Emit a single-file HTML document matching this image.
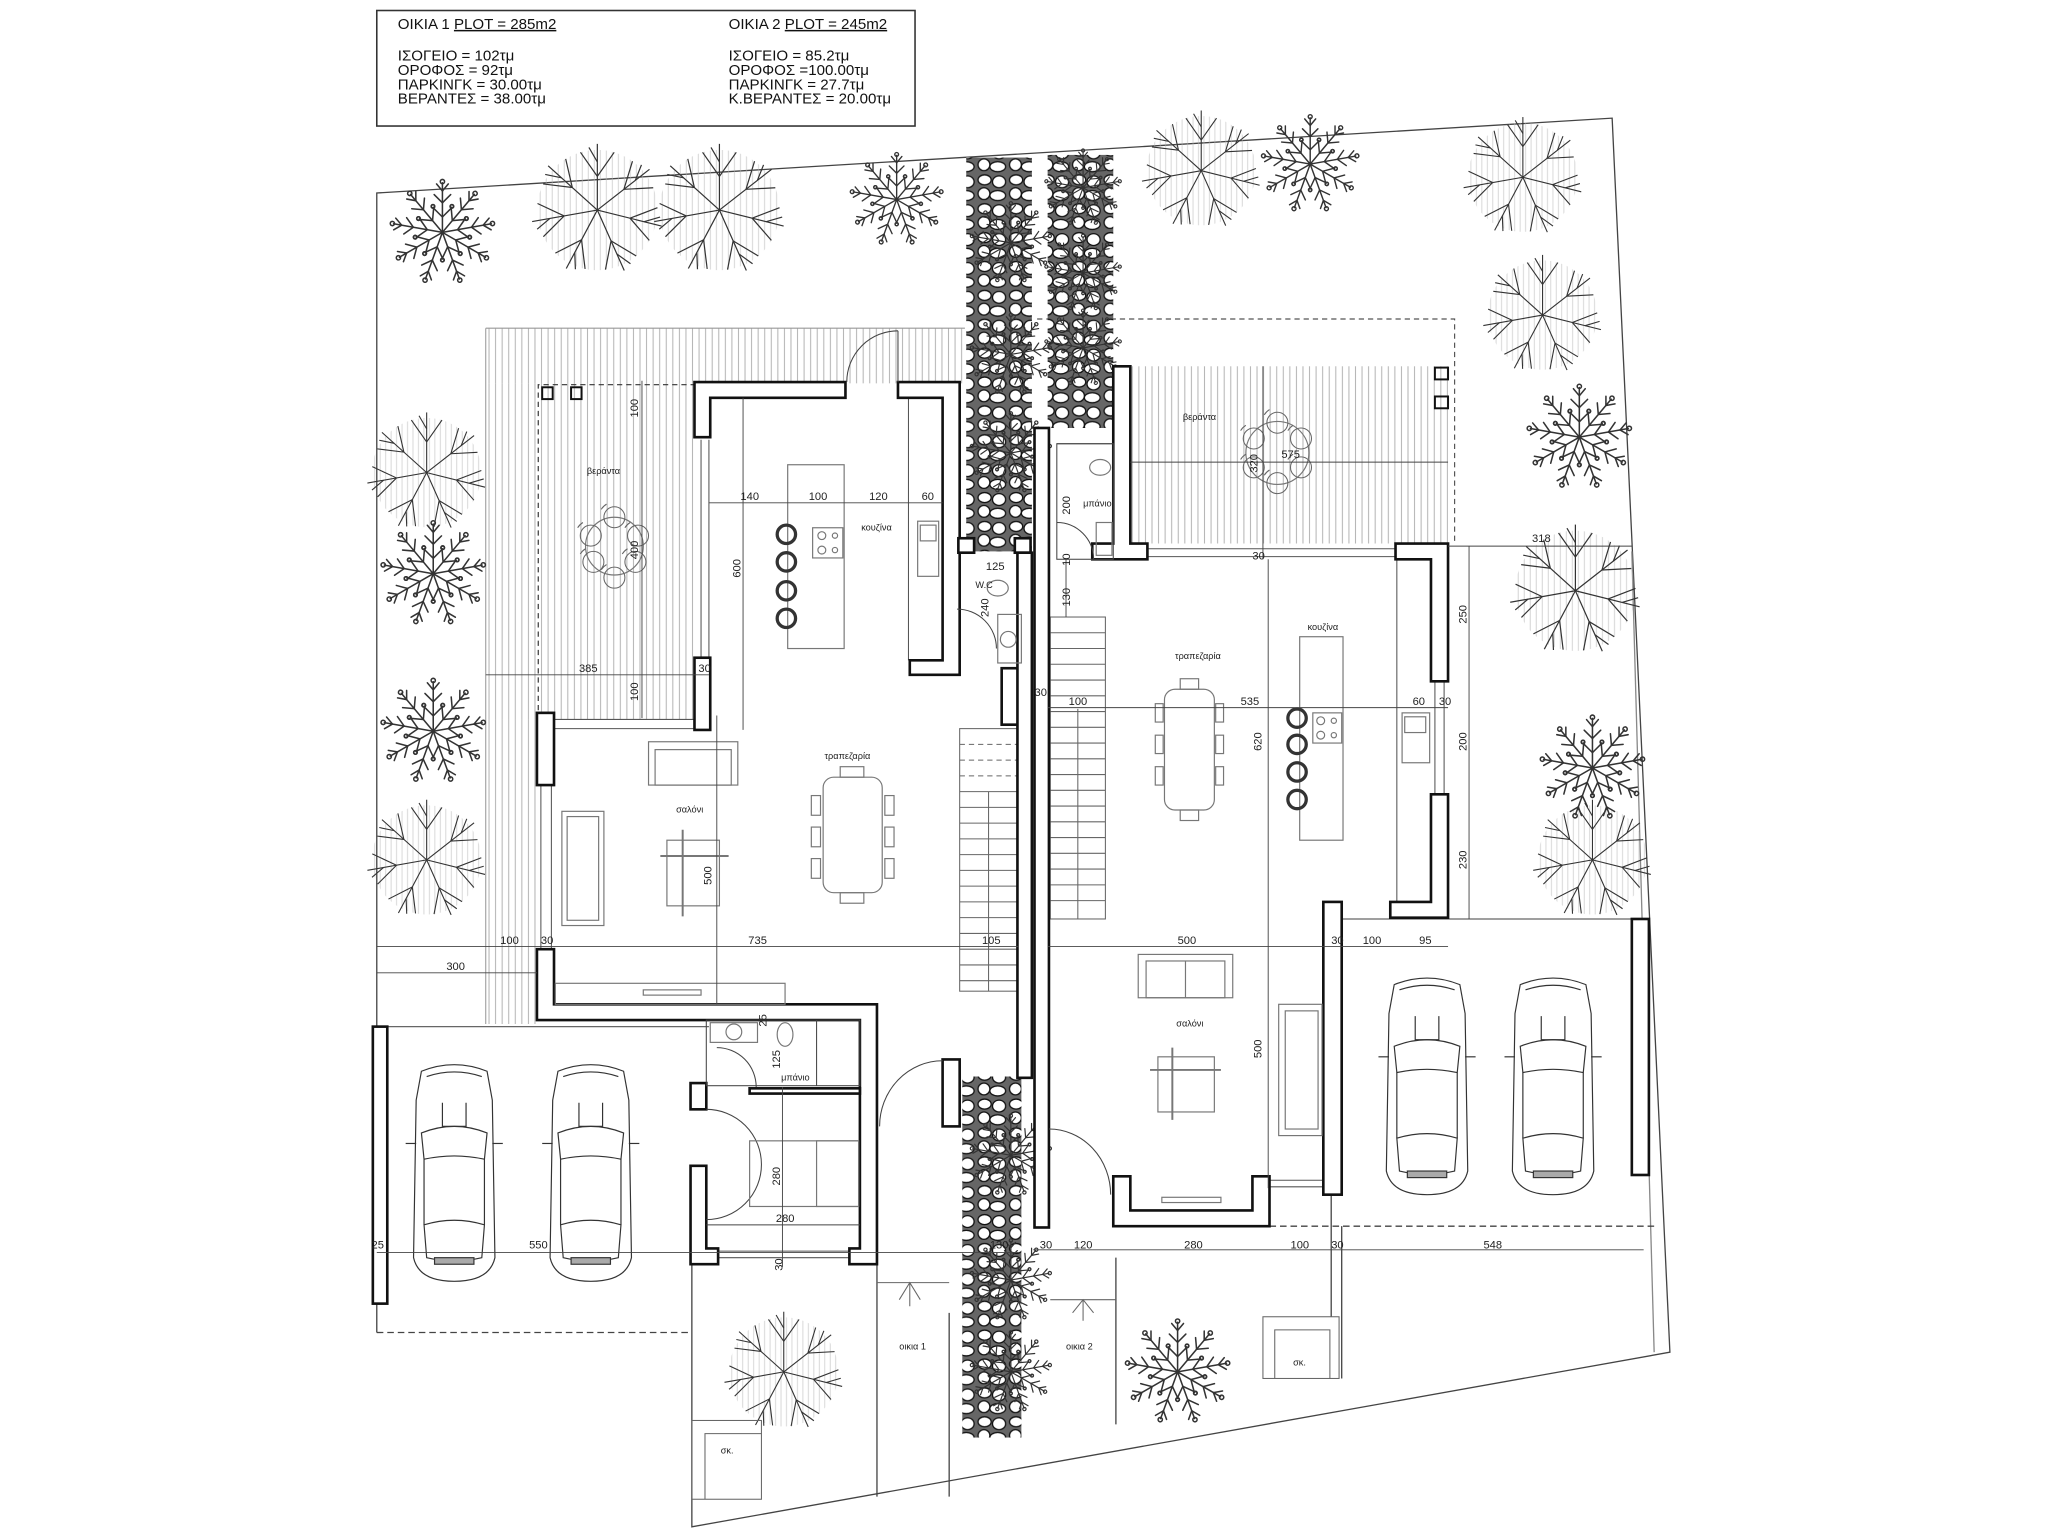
<!DOCTYPE html>
<html><head><meta charset="utf-8"><style>
html,body{margin:0;padding:0;background:#fff;}
svg{display:block;}
text{font-family:"Liberation Sans",sans-serif;fill:#222;}
.lg{font-size:11.5px;fill:#111;}
.d{font-size:8.5px;}
.s{font-size:7px;}
</style></head><body>
<svg width="2048" height="1536" viewBox="0 0 1560 1170" preserveAspectRatio="none" xmlns="http://www.w3.org/2000/svg">
<defs>
<pattern id="hatch" width="5" height="10" patternUnits="userSpaceOnUse"><line x1="2.5" y1="0" x2="2.5" y2="10" stroke="#b5b5b5" stroke-width="0.8"/></pattern>
<pattern id="stone" width="24" height="22" patternUnits="userSpaceOnUse">
<rect width="24" height="22" fill="#666"/>
<ellipse cx="6" cy="5" rx="5" ry="3.8" fill="#fff" stroke="#111" stroke-width="1"/>
<ellipse cx="17" cy="6.5" rx="5" ry="4.5" fill="#fff" stroke="#111" stroke-width="1"/>
<ellipse cx="5.5" cy="15.5" rx="4.5" ry="4.5" fill="#fff" stroke="#111" stroke-width="1"/>
<ellipse cx="16" cy="17" rx="6" ry="3.8" fill="#fff" stroke="#111" stroke-width="1"/>
</pattern>
<g id="br" stroke="#333" stroke-width="1.3" fill="none" stroke-linecap="round">
<line x1="0" y1="0" x2="0" y2="-42"/>
<line x1="0" y1="-13" x2="-8" y2="-21"/><line x1="0" y1="-13" x2="8" y2="-21"/>
<line x1="0" y1="-25" x2="-7" y2="-32"/><line x1="0" y1="-25" x2="7" y2="-32"/>
<line x1="0" y1="-35" x2="-5" y2="-41"/><line x1="0" y1="-35" x2="5" y2="-41"/>
<circle cx="-8" cy="-22" r="1.5"/><circle cx="8" cy="-22" r="1.5"/><circle cx="0" cy="-43" r="1.8"/>
</g>
<symbol id="bush" viewBox="-50 -50 100 100" overflow="visible">
<use href="#br"/><use href="#br" transform="rotate(40)"/><use href="#br" transform="rotate(80)"/><use href="#br" transform="rotate(120)"/><use href="#br" transform="rotate(160)"/><use href="#br" transform="rotate(200)"/><use href="#br" transform="rotate(240)"/><use href="#br" transform="rotate(280)"/><use href="#br" transform="rotate(320)"/>
</symbol>
<g id="tb" stroke="#333" stroke-width="1" fill="none">
<line x1="0" y1="0" x2="0" y2="-55"/>
<line x1="0" y1="-28" x2="-14" y2="-48"/><line x1="0" y1="-28" x2="14" y2="-48"/>
<line x1="0" y1="-40" x2="-7" y2="-52"/>
</g>
<symbol id="tree" viewBox="-60 -60 120 120" overflow="visible">
<circle r="50" fill="url(#hatch)" opacity="0.6"/>
<use href="#tb"/><use href="#tb" transform="rotate(52)"/><use href="#tb" transform="rotate(104)"/><use href="#tb" transform="rotate(156)"/><use href="#tb" transform="rotate(208)"/><use href="#tb" transform="rotate(260)"/><use href="#tb" transform="rotate(312)"/>
</symbol>
<g id="car" fill="none" stroke="#333" stroke-width="0.9">
<path d="M8,8 Q33,-2 58,8 L62,30 L64,150 Q60,168 33,168 Q6,168 2,150 L4,30 Z"/>
<path d="M12,12 Q33,5 54,12"/>
<path d="M8,55 Q33,45 58,55 L56,75 Q33,70 10,75 Z"/>
<path d="M10,75 L10,125 M56,75 L56,125"/>
<path d="M10,125 Q33,118 56,125 L54,150 Q33,155 12,150 Z"/>
<rect x="18" y="150" width="30" height="5" fill="#aaa"/>
<path d="M24,32 L24,50 L42,50 L42,32"/>
<line x1="-4" y1="63" x2="4" y2="63"/><line x1="62" y1="63" x2="70" y2="63"/>
</g>
<g id="chair" fill="none" stroke="#666" stroke-width="0.8"><circle r="8"/><path d="M-10,-6 A12,12 0 0 1 -6,-10"/></g>
</defs>

<rect x="287" y="8" width="410" height="88" fill="none" stroke="#333" stroke-width="1.2"/>
<text class="lg" x="303" y="22">ΟΙΚΙΑ 1 <tspan text-decoration="underline">PLOT = 285m2</tspan></text>
<text class="lg" x="303" y="46">ΙΣΟΓΕΙΟ = 102τμ</text>
<text class="lg" x="303" y="57">ΟΡΟΦΟΣ = 92τμ</text>
<text class="lg" x="303" y="68">ΠΑΡΚΙΝΓΚ = 30.00τμ</text>
<text class="lg" x="303" y="79">ΒΕΡΑΝΤΕΣ = 38.00τμ</text>
<text class="lg" x="555" y="22">ΟΙΚΙΑ 2 <tspan text-decoration="underline">PLOT = 245m2</tspan></text>
<text class="lg" x="555" y="46">ΙΣΟΓΕΙΟ = 85.2τμ</text>
<text class="lg" x="555" y="57">ΟΡΟΦΟΣ =100.00τμ</text>
<text class="lg" x="555" y="68">ΠΑΡΚΙΝΓΚ = 27.7τμ</text>
<text class="lg" x="555" y="79">Κ.ΒΕΡΑΝΤΕΣ = 20.00τμ</text>

<g fill="none" stroke="#444" stroke-width="1">
<polyline points="287,1015 287,147 1228,90 1272,1030 527,1163 527,958"/>
<line x1="1243" y1="420" x2="1260" y2="1030" stroke="#888"/>
<line x1="287" y1="1015" x2="527" y2="1015" stroke-dasharray="5,3"/>
<line x1="967" y1="934" x2="1262" y2="934" stroke-dasharray="5,3"/>
<line x1="287" y1="782" x2="540" y2="782" stroke="#666"/>
<line x1="1022" y1="700" x2="1243" y2="700" stroke="#666"/>
<line x1="668" y1="963" x2="668" y2="1140"/>
<line x1="723" y1="1000" x2="723" y2="1140"/>
<line x1="850" y1="958" x2="850" y2="1085"/>
<line x1="1022" y1="934" x2="1022" y2="1050"/>
<line x1="1014" y1="910" x2="1014" y2="1003"/>
</g>

<rect x="370" y="250" width="365" height="42" fill="url(#hatch)"/>
<rect x="370" y="292" width="160" height="256" fill="url(#hatch)"/>
<rect x="370" y="548" width="40" height="232" fill="url(#hatch)"/>
<rect x="861" y="279" width="242" height="135" fill="url(#hatch)"/>
<line x1="370" y1="250" x2="735" y2="250" stroke="#999" stroke-width="0.8"/>
<line x1="370" y1="250" x2="370" y2="780" stroke="#999" stroke-width="0.8"/>
<path d="M410,548 L410,293 L530,293" fill="none" stroke="#333" stroke-dasharray="4,3" stroke-width="0.9"/>
<path d="M790,243 L1108,243 L1108,414" fill="none" stroke="#555" stroke-dasharray="4,3" stroke-width="0.9"/>
<rect x="413" y="295" width="8" height="9" fill="none" stroke="#111" stroke-width="1.5"/>
<rect x="435" y="295" width="8" height="9" fill="none" stroke="#111" stroke-width="1.5"/>
<rect x="1093" y="280" width="10" height="9" fill="none" stroke="#111" stroke-width="1.5"/>
<rect x="1093" y="302" width="10" height="9" fill="none" stroke="#111" stroke-width="1.5"/>

<rect x="736" y="120" width="50" height="300" fill="url(#stone)"/>
<rect x="798" y="118" width="50" height="208" fill="url(#stone)"/>
<rect x="733" y="820" width="45" height="275" fill="url(#stone)"/>

<g>
<use href="#tree" x="400" y="105" width="110" height="110"/>
<use href="#tree" x="493" y="105" width="110" height="110"/>
<use href="#tree" x="865" y="80" width="100" height="100"/>
<use href="#tree" x="1110" y="85" width="100" height="100"/>
<use href="#tree" x="1125" y="190" width="100" height="100"/>
<use href="#tree" x="275" y="310" width="100" height="100"/>
<use href="#tree" x="275" y="605" width="100" height="100"/>
<use href="#tree" x="1145" y="395" width="110" height="110"/>
<use href="#tree" x="1163" y="605" width="100" height="100"/>
<use href="#tree" x="547" y="995" width="100" height="100"/>
<use href="#bush" x="292" y="132" width="90" height="90"/>
<use href="#bush" x="643" y="112" width="80" height="80"/>
<use href="#bush" x="956" y="83" width="84" height="84"/>
<use href="#bush" x="1158" y="288" width="90" height="90"/>
<use href="#bush" x="285" y="392" width="90" height="90"/>
<use href="#bush" x="285" y="512" width="90" height="90"/>
<use href="#bush" x="1168" y="540" width="90" height="90"/>
<use href="#bush" x="852" y="1000" width="90" height="90"/>
<use href="#bush" x="735" y="150" width="70" height="70"/>
<use href="#bush" x="735" y="235" width="70" height="70"/>
<use href="#bush" x="735" y="310" width="70" height="70"/>
<use href="#bush" x="792" y="110" width="66" height="66"/>
<use href="#bush" x="792" y="175" width="66" height="66"/>
<use href="#bush" x="792" y="232" width="66" height="66"/>
<use href="#bush" x="735" y="845" width="70" height="70"/>
<use href="#bush" x="735" y="940" width="70" height="70"/>
<use href="#bush" x="735" y="1010" width="70" height="70"/>
</g>

<g fill="none" stroke="#666" stroke-width="0.8">
<rect x="731" y="555" width="45" height="200"/>
<line x1="731" y1="567" x2="776" y2="567" stroke-dasharray="4,3"/>
<line x1="731" y1="579" x2="776" y2="579" stroke-dasharray="4,3"/>
<line x1="731" y1="591" x2="776" y2="591" stroke-dasharray="4,3"/>
<line x1="731" y1="603" x2="776" y2="603"/><line x1="731" y1="615" x2="776" y2="615"/><line x1="731" y1="627" x2="776" y2="627"/><line x1="731" y1="639" x2="776" y2="639"/><line x1="731" y1="651" x2="776" y2="651"/><line x1="731" y1="663" x2="776" y2="663"/><line x1="731" y1="675" x2="776" y2="675"/><line x1="731" y1="687" x2="776" y2="687"/><line x1="731" y1="699" x2="776" y2="699"/><line x1="731" y1="711" x2="776" y2="711"/><line x1="731" y1="723" x2="776" y2="723"/><line x1="731" y1="735" x2="776" y2="735"/><line x1="731" y1="747" x2="776" y2="747"/>
<line x1="753" y1="603" x2="753" y2="755"/>
<rect x="800" y="470" width="42" height="230"/>
<line x1="800" y1="482" x2="842" y2="482"/><line x1="800" y1="494" x2="842" y2="494"/><line x1="800" y1="506" x2="842" y2="506"/><line x1="800" y1="518" x2="842" y2="518"/><line x1="800" y1="530" x2="842" y2="530"/><line x1="800" y1="542" x2="842" y2="542"/><line x1="800" y1="554" x2="842" y2="554"/><line x1="800" y1="566" x2="842" y2="566"/><line x1="800" y1="578" x2="842" y2="578"/><line x1="800" y1="590" x2="842" y2="590"/><line x1="800" y1="602" x2="842" y2="602"/><line x1="800" y1="614" x2="842" y2="614"/><line x1="800" y1="626" x2="842" y2="626"/><line x1="800" y1="638" x2="842" y2="638"/><line x1="800" y1="650" x2="842" y2="650"/><line x1="800" y1="662" x2="842" y2="662"/><line x1="800" y1="674" x2="842" y2="674"/><line x1="800" y1="686" x2="842" y2="686"/>
<line x1="821" y1="540" x2="821" y2="700"/>
</g>

<g fill="none" stroke="#555" stroke-width="0.8">
<line x1="534" y1="335" x2="534" y2="501"/><line x1="540" y1="335" x2="540" y2="501"/>
<line x1="422" y1="548" x2="529" y2="548"/><line x1="422" y1="555" x2="529" y2="555"/>
<line x1="412" y1="598" x2="412" y2="723"/><line x1="420" y1="598" x2="420" y2="723"/>
<line x1="692" y1="303" x2="692" y2="503"/>
<line x1="874" y1="418" x2="1063" y2="418"/><line x1="874" y1="424" x2="1063" y2="424"/>
<line x1="1064" y1="426" x2="1064" y2="687"/>
<line x1="1093" y1="519" x2="1093" y2="605"/><line x1="1100" y1="519" x2="1100" y2="605"/>
<line x1="967" y1="899" x2="1008" y2="899"/><line x1="967" y1="904" x2="1008" y2="904"/>
<line x1="547" y1="953" x2="647" y2="953"/><line x1="547" y1="958" x2="647" y2="958"/>
<line x1="729" y1="421" x2="729" y2="509"/>
<line x1="805" y1="338" x2="848" y2="338"/>
</g>

<g fill="#fff" stroke="#111" stroke-width="2" stroke-linejoin="miter">
<polygon points="529,291 644,291 644,303 541,303 541,333 529,333"/>
<polygon points="684,291 731,291 731,514 693,514 693,503 718,503 718,303 684,303"/>
<rect x="529" y="501" width="12" height="55"/>
<rect x="409" y="543" width="13" height="55"/>
<rect x="730" y="410" width="12" height="11"/>
<rect x="773" y="410" width="12" height="11"/>
<rect x="763" y="509" width="13" height="43"/>
<rect x="775" y="421" width="11" height="400"/>
<rect x="788" y="326" width="11" height="609"/>
<polygon points="409,723 422,723 422,765 668,765 668,963 647,963 647,951 655,951 655,777 409,777"/>
<rect x="526" y="825" width="12" height="20"/>
<polygon points="526,888 538,888 538,951 547,951 547,963 526,963"/>
<rect x="571" y="829" width="84" height="4"/>
<rect x="718" y="807" width="13" height="51"/>
<rect x="284" y="782" width="11" height="211"/>
<polygon points="848,279 861,279 861,414 874,414 874,426 832,426 832,414 848,414"/>
<polygon points="1063,414 1103,414 1103,519 1090,519 1090,426 1063,426"/>
<polygon points="1090,605 1103,605 1103,699 1059,699 1059,687 1090,687"/>
<rect x="1008" y="687" width="14" height="223"/>
<polygon points="848,896 861,896 861,922 954,922 954,896 967,896 967,934 848,934"/>
<rect x="1243" y="700" width="13" height="195"/>
</g>

<g fill="none" stroke="#444" stroke-width="0.8">
<line x1="684" y1="291" x2="684" y2="252"/><path d="M684,252 A39,39 0 0 0 645,291"/>
<path d="M718,808 A48,50 0 0 0 670,858"/>
<path d="M799,860 A47,50 0 0 1 846,910"/>
<path d="M538,845 A42,42 0 0 1 580,887 A42,42 0 0 1 538,929"/>
<path d="M546,798 A30,30 0 0 1 576,828"/>
<path d="M729,464 A30,30 0 0 1 759,494"/>
<path d="M805,398 A28,28 0 0 1 833,426"/>
<rect x="805" y="338" width="43" height="88"/>
<rect x="538" y="777" width="117" height="50"/>
<line x1="622" y1="777" x2="622" y2="827"/>
</g>

<g fill="none" stroke="#777" stroke-width="0.9">
<rect x="600" y="354" width="43" height="140"/>
<rect x="619" y="402" width="23" height="23"/>
<circle cx="626" cy="408" r="3"/><circle cx="636" cy="408" r="2"/><circle cx="626" cy="419" r="3"/><circle cx="636" cy="419" r="2"/>
<rect x="699" y="397" width="16" height="42"/><rect x="701" y="400" width="12" height="12"/>
<rect x="990" y="485" width="33" height="155"/>
<rect x="1000" y="543" width="22" height="23"/>
<circle cx="1006" cy="549" r="3"/><circle cx="1016" cy="549" r="2"/><circle cx="1006" cy="560" r="3"/><circle cx="1016" cy="560" r="2"/>
<rect x="1068" y="543" width="21" height="38"/><rect x="1070" y="546" width="16" height="12"/>
<rect x="494" y="565" width="68" height="33"/><rect x="499" y="571" width="58" height="27"/>
<rect x="428" y="618" width="32" height="87"/><rect x="432" y="622" width="24" height="79"/>
<rect x="508" y="640" width="40" height="50"/><line x1="503" y1="652" x2="555" y2="652" stroke-width="1.5"/><line x1="520" y1="632" x2="520" y2="698" stroke-width="1.5"/>
<rect x="627" y="592" width="45" height="88" rx="8"/>
<rect x="640" y="584" width="18" height="8"/><rect x="640" y="680" width="18" height="8"/>
<rect x="618" y="606" width="7" height="15"/><rect x="618" y="630" width="7" height="15"/><rect x="618" y="654" width="7" height="15"/>
<rect x="674" y="606" width="7" height="15"/><rect x="674" y="630" width="7" height="15"/><rect x="674" y="654" width="7" height="15"/>
<rect x="887" y="525" width="38" height="92" rx="8"/>
<rect x="899" y="517" width="14" height="8"/><rect x="899" y="617" width="14" height="8"/>
<rect x="880" y="536" width="6" height="14"/><rect x="880" y="560" width="6" height="14"/><rect x="880" y="584" width="6" height="14"/>
<rect x="926" y="536" width="6" height="14"/><rect x="926" y="560" width="6" height="14"/><rect x="926" y="584" width="6" height="14"/>
<rect x="867" y="727" width="72" height="33"/><rect x="873" y="732" width="60" height="28"/><line x1="903" y1="732" x2="903" y2="760"/>
<rect x="974" y="765" width="33" height="100"/><rect x="979" y="770" width="25" height="90"/>
<rect x="882" y="805" width="43" height="42"/><line x1="876" y1="815" x2="930" y2="815" stroke-width="1.5"/><line x1="893" y1="798" x2="893" y2="853" stroke-width="1.5"/>
<rect x="423" y="749" width="175" height="16"/><rect x="490" y="754" width="44" height="4"/>
<rect x="885" y="912" width="45" height="4"/>
<rect x="571" y="869" width="83" height="50"/><rect x="622" y="869" width="32" height="50"/>
<rect x="541" y="779" width="36" height="15"/><circle cx="559" cy="786" r="6"/>
<ellipse cx="598" cy="788" rx="6" ry="9"/><ellipse cx="838" cy="356" rx="8" ry="6"/><ellipse cx="760" cy="448" rx="8" ry="6"/>
<rect x="835" y="398" width="12" height="25"/><rect x="760" y="468" width="18" height="37"/><circle cx="768" cy="487" r="6"/>
<circle cx="468" cy="416" r="22"/><circle cx="973" cy="345" r="24"/>
</g>
<g stroke="#333" stroke-width="2.5" fill="none">
<circle cx="599" cy="407" r="7"/><circle cx="599" cy="428" r="7"/><circle cx="599" cy="450" r="7"/><circle cx="599" cy="471" r="7"/>
<circle cx="988" cy="547" r="7"/><circle cx="988" cy="567" r="7"/><circle cx="988" cy="588" r="7"/><circle cx="988" cy="609" r="7"/>
</g>
<g>
<use href="#chair" x="468" y="394"/><use href="#chair" x="450" y="408"/><use href="#chair" x="486" y="408"/><use href="#chair" x="452" y="428"/><use href="#chair" x="484" y="428"/><use href="#chair" x="468" y="440"/>
<use href="#chair" x="973" y="322"/><use href="#chair" x="955" y="334"/><use href="#chair" x="991" y="334"/><use href="#chair" x="955" y="356"/><use href="#chair" x="991" y="356"/><use href="#chair" x="973" y="368"/>
</g>

<use href="#car" x="313" y="808"/>
<use href="#car" x="417" y="808"/>
<use href="#car" x="1054" y="742"/>
<use href="#car" x="1150" y="742"/>

<g fill="none" stroke="#666" stroke-width="0.8">
<line x1="668" y1="977" x2="723" y2="977"/><path d="M685,990 L693,977 L701,990 M693,977 L693,995"/>
<line x1="800" y1="990" x2="850" y2="990"/><path d="M817,1000 L825,990 L833,1000 M825,990 L825,1006"/>
<rect x="962" y="1003" width="58" height="47"/><polyline points="971,1050 971,1013 1013,1013 1013,1050"/>
<rect x="527" y="1082" width="53" height="60"/><polyline points="537,1142 537,1092 580,1092"/>
</g>

<g stroke="#444" stroke-width="0.7" fill="none">
<line x1="540" y1="383" x2="718" y2="383"/>
<line x1="566" y1="303" x2="566" y2="556"/>
<line x1="489" y1="290" x2="489" y2="547"/>
<line x1="370" y1="514" x2="540" y2="514"/>
<line x1="546" y1="545" x2="546" y2="765"/>
<line x1="287" y1="721" x2="776" y2="721"/>
<line x1="287" y1="741" x2="409" y2="741"/>
<line x1="596" y1="828" x2="596" y2="965"/>
<line x1="538" y1="933" x2="655" y2="933"/>
<line x1="287" y1="954" x2="776" y2="954"/>
<line x1="861" y1="352" x2="1103" y2="352"/>
<line x1="962" y1="279" x2="962" y2="426"/>
<line x1="966" y1="426" x2="966" y2="905"/>
<line x1="1103" y1="416" x2="1243" y2="416"/>
<line x1="1119" y1="416" x2="1119" y2="700"/>
<line x1="798" y1="539" x2="1103" y2="539"/>
<line x1="798" y1="721" x2="1103" y2="721"/>
<line x1="787" y1="952" x2="1252" y2="952"/>
<line x1="812" y1="426" x2="812" y2="470"/>
</g>

<g class="d">
<text x="564" y="381">140</text><text x="616" y="381">100</text><text x="662" y="381">120</text><text x="702" y="381">60</text>
<text x="441" y="512">385</text><text x="532" y="512">30</text>
<text x="381" y="719">100</text><text x="412" y="719">30</text><text x="570" y="719">735</text><text x="748" y="719">105</text>
<text x="340" y="739">300</text>
<text x="591" y="931">280</text>
<text x="283" y="951">25</text><text x="403" y="951">550</text><text x="754" y="951">130</text><text x="792" y="951">30</text><text x="818" y="951">120</text><text x="902" y="951">280</text><text x="983" y="951">100</text><text x="1014" y="951">30</text><text x="1130" y="951">548</text>
<text x="897" y="719">500</text><text x="1014" y="719">30</text><text x="1038" y="719">100</text><text x="1081" y="719">95</text>
<text x="814" y="537">100</text><text x="945" y="537">535</text><text x="1076" y="537">60</text><text x="1096" y="537">30</text>
<text x="976" y="349">575</text><text x="1167" y="413">318</text>
<text x="751" y="434">125</text><text x="954" y="426">30</text><text x="788" y="530">30</text>
<text transform="translate(486,318) rotate(-90)">100</text>
<text transform="translate(486,426) rotate(-90)">400</text>
<text transform="translate(486,534) rotate(-90)">100</text>
<text transform="translate(564,440) rotate(-90)">600</text>
<text transform="translate(542,674) rotate(-90)">500</text>
<text transform="translate(753,470) rotate(-90)">240</text>
<text transform="translate(594,903) rotate(-90)">280</text>
<text transform="translate(594,814) rotate(-90)">125</text>
<text transform="translate(584,782) rotate(-90)">25</text>
<text transform="translate(596,968) rotate(-90)">30</text>
<text transform="translate(815,392) rotate(-90)">200</text>
<text transform="translate(815,431) rotate(-90)">10</text>
<text transform="translate(815,462) rotate(-90)">130</text>
<text transform="translate(958,360) rotate(-90)">320</text>
<text transform="translate(961,572) rotate(-90)">620</text>
<text transform="translate(961,806) rotate(-90)">500</text>
<text transform="translate(1117,475) rotate(-90)">250</text>
<text transform="translate(1117,572) rotate(-90)">200</text>
<text transform="translate(1117,662) rotate(-90)">230</text>
</g>
<g class="s">
<text x="447" y="361">βεράντα</text><text x="901" y="320">βεράντα</text>
<text x="656" y="404">κουζίνα</text><text x="996" y="480">κουζίνα</text>
<text x="628" y="578">τραπεζαρία</text><text x="895" y="502">τραπεζαρία</text>
<text x="515" y="619">σαλόνι</text><text x="896" y="782">σαλόνι</text>
<text x="825" y="386">μπάνιο</text><text x="595" y="823">μπάνιο</text>
<text x="743" y="448">W.C</text>
<text x="685" y="1028">οικια 1</text><text x="812" y="1028">οικια 2</text>
<text x="549" y="1107">σκ.</text><text x="985" y="1040">σκ.</text>
</g>
</svg>
</body></html>
